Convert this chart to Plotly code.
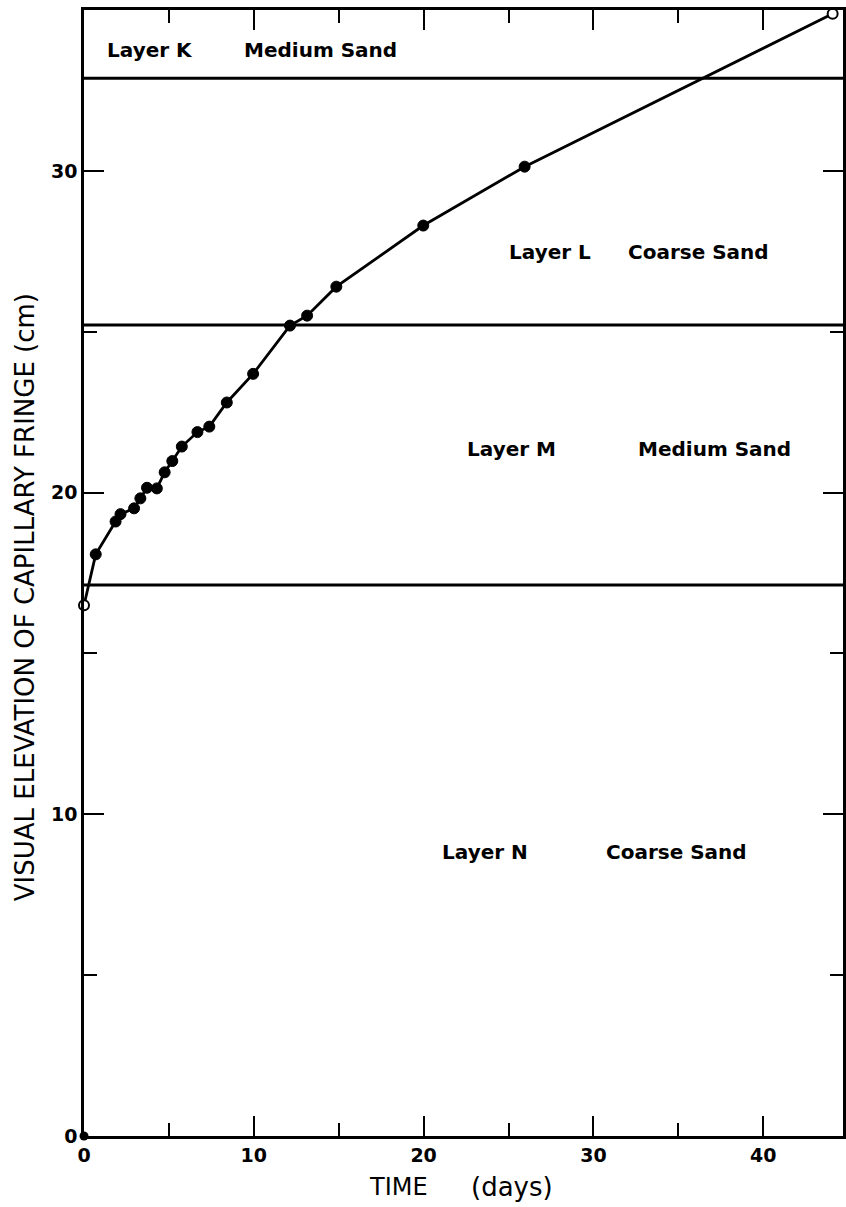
import plotly.graph_objects as go

# ---- data ----
time_days = [0.0, 0.69, 1.86, 2.15, 2.95, 3.32, 3.71, 4.29, 4.75, 5.20, 5.76,
             6.68, 7.38, 8.41, 9.96, 12.13, 13.14, 14.86, 19.98, 25.95, 44.09]
elevation_cm = [16.5, 18.08, 19.10, 19.33, 19.51, 19.82, 20.15, 20.13, 20.63, 20.98, 21.43,
                21.88, 22.05, 22.80, 23.69, 25.19, 25.50, 26.40, 28.30, 30.13, 34.88]
open_idx = [0, 20]          # points drawn as open circles
origin_x = [0]
origin_y = [0]
layer_boundaries = [32.88, 25.21, 17.13]
layer_names = ["Layer K", "Layer L", "Layer M", "Layer N"]
layer_soils = ["Medium Sand", "Coarse Sand", "Medium Sand", "Coarse Sand"]
x_ticks = [0, 10, 20, 30, 40]
y_ticks = [0, 10, 20, 30]

FONT = "DejaVu Sans"

fig = go.Figure()

# curve
fig.add_trace(go.Scatter(
    x=time_days, y=elevation_cm, mode="lines",
    line=dict(color="black", width=2.8), hoverinfo="skip", showlegend=False))

filled_x = [x for i, x in enumerate(time_days) if i not in open_idx]
filled_y = [y for i, y in enumerate(elevation_cm) if i not in open_idx]
open_x = [time_days[i] for i in open_idx]
open_y = [elevation_cm[i] for i in open_idx]

fig.add_trace(go.Scatter(
    x=filled_x, y=filled_y, mode="markers",
    marker=dict(symbol="circle", size=11, color="black",
                line=dict(color="black", width=1)),
    showlegend=False, cliponaxis=False))
fig.add_trace(go.Scatter(
    x=open_x, y=open_y, mode="markers",
    marker=dict(symbol="circle", size=10, color="white",
                line=dict(color="black", width=2)),
    showlegend=False, cliponaxis=False))
fig.add_trace(go.Scatter(
    x=origin_x, y=origin_y, mode="markers",
    marker=dict(symbol="circle", size=9, color="black"),
    showlegend=False, cliponaxis=False))

# layer boundaries
for yb in layer_boundaries:
    fig.add_shape(type="line", xref="paper", x0=0, x1=1, yref="y", y0=yb, y1=yb,
                  line=dict(color="black", width=3), layer="below")

# layer labels (positions)
name_pos = [(1.23, 33.76), (24.93, 27.48), (22.46, 21.36), (20.94, 8.83)]
soil_x = [9.33, 31.9, 32.5, 30.6]
lab_font = dict(family=FONT, size=20, color="black", weight="bold")
for (nx, ny), sx, nm, sl in zip(name_pos, soil_x, layer_names, layer_soils):
    fig.add_annotation(x=nx, y=ny, xref="x", yref="y", text=nm, showarrow=False,
                       xanchor="left", yanchor="middle", font=lab_font)
    fig.add_annotation(x=sx, y=ny, xref="x", yref="y", text=sl, showarrow=False,
                       xanchor="left", yanchor="middle", font=lab_font)

# axis titles
title_font = dict(family=FONT, size=24, color="black")
fig.add_annotation(x=0.4147, y=-0.0453, xref="paper", yref="paper", text="TIME",
                   showarrow=False, xanchor="center", yanchor="middle", font=title_font)
fig.add_annotation(x=0.5643, y=-0.0453, xref="paper", yref="paper", text="(days)",
                   showarrow=False, xanchor="center", yanchor="middle",
                   font=dict(family=FONT, size=26, color="black"))
fig.add_annotation(x=-0.0774, y=0.4787, xref="paper", yref="paper",
                   text="VISUAL ELEVATION OF CAPILLARY FRINGE (cm)", textangle=-90,
                   showarrow=False, xanchor="center", yanchor="middle",
                   font=dict(family=FONT, size=26, color="black"))

tick_font = dict(family=FONT, size=19, color="black", weight="bold")

fig.update_xaxes(
    range=[0, 44.7], tickmode="array", tickvals=x_ticks, ticktext=[str(v) for v in x_ticks],
    ticks="inside", ticklen=20, tickwidth=2, tickcolor="black",
    minor=dict(dtick=5, tick0=0, ticks="inside", ticklen=13, tickwidth=2, tickcolor="black",
               showgrid=False),
    showline=True, linewidth=2.5, linecolor="black", mirror="ticks",
    showgrid=False, zeroline=False, tickfont=tick_font)
fig.update_yaxes(
    range=[0, 35], tickmode="array", tickvals=y_ticks, ticktext=[str(v) for v in y_ticks],
    ticks="inside", ticklen=20, tickwidth=2, tickcolor="black",
    minor=dict(dtick=5, tick0=0, ticks="inside", ticklen=13, tickwidth=2, tickcolor="black",
               showgrid=False),
    showline=True, linewidth=2.5, linecolor="black", mirror="ticks",
    showgrid=False, zeroline=False, tickfont=tick_font)

fig.update_layout(
    width=846, height=1207,
    margin=dict(l=84, r=0, t=10, b=71),
    paper_bgcolor="white", plot_bgcolor="white",
    showlegend=False,
)

fig.write_html("out.html")
